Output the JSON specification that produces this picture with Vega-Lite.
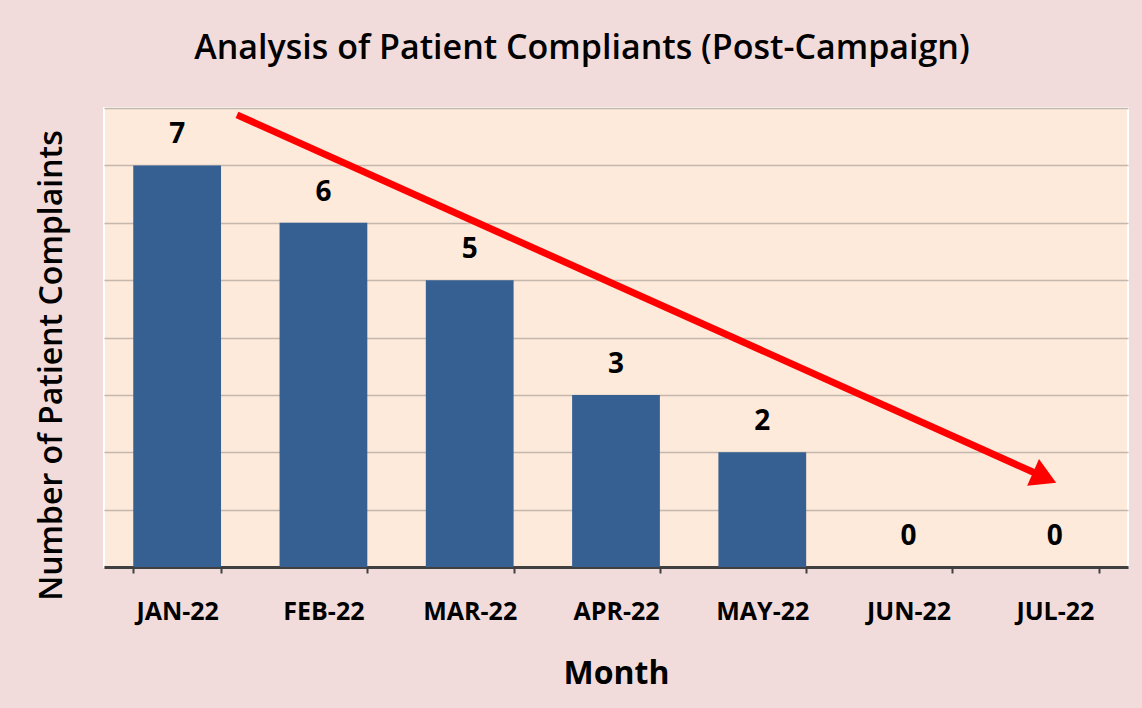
{
  "$schema": "https://vega.github.io/schema/vega-lite/v6.json",
  "width": 1024,
  "height": 459,
  "autosize": {"type": "none"},
  "padding": {"left": 104, "top": 108, "right": 14, "bottom": 141},
  "background": "#f2dcdb",
  "config": {
    "view": {"fill": "#fdeada", "stroke": "#ffffff", "strokeWidth": 2},
    "font": "Open Sans"
  },
  "title": {
    "text": "Analysis of Patient Compliants (Post-Campaign)",
    "fontSize": 34,
    "fontWeight": 600,
    "font": "Open Sans",
    "color": "#000000",
    "anchor": "middle",
    "dx": -34,
    "baseline": "alphabetic",
    "offset": 8
  },
  "datasets": {
    "bars": [
      {"month": "JAN-22", "complaints": 7},
      {"month": "FEB-22", "complaints": 6},
      {"month": "MAR-22", "complaints": 5},
      {"month": "APR-22", "complaints": 3},
      {"month": "MAY-22", "complaints": 2},
      {"month": "JUN-22", "complaints": 0},
      {"month": "JUL-22", "complaints": 0}
    ],
    "arrow": [
      {"px": 0.909, "py": 7.88},
      {"px": 6.38, "py": 1.62}
    ],
    "head": [
      {"px": 6.43, "py": 1.56}
    ]
  },
  "layer": [
    {
      "data": {"name": "bars"},
      "encoding": {
        "x": {
          "field": "month",
          "type": "nominal",
          "sort": null,
          "scale": {"paddingInner": 0.4, "paddingOuter": 0.2},
          "axis": {
            "title": "Month",
            "titleFontSize": 32,
            "titleFontWeight": "bold",
            "titleColor": "#000000",
            "titlePadding": 34,
            "labelAngle": 0,
            "labelFontSize": 25,
            "labelFontWeight": "bold",
            "labelColor": "#000000",
            "labelPadding": 26,
            "tickBand": "extent",
            "tickSize": 6,
            "tickWidth": 2,
            "tickColor": "#404040",
            "domainColor": "#404040",
            "domainWidth": 3,
            "grid": false
          }
        },
        "y": {
          "field": "complaints",
          "type": "quantitative",
          "scale": {"domain": [0, 8], "nice": false},
          "axis": {
            "title": "Number of Patient Complaints",
            "titleFontSize": 32,
            "titleFontWeight": 600,
            "titleColor": "#000000",
            "titlePadding": 36,
            "titleY": 257,
            "labels": false,
            "ticks": false,
            "domain": false,
            "tickCount": 8,
            "grid": true,
            "gridColor": "#c4b8ae",
            "gridWidth": 1.5
          }
        }
      },
      "layer": [
        {"mark": {"type": "bar", "color": "#376092"}},
        {
          "mark": {"type": "text", "dy": -30, "fontSize": 28, "fontWeight": "bold", "color": "#000000", "baseline": "middle"},
          "encoding": {"text": {"field": "complaints", "type": "quantitative"}}
        }
      ]
    },
    {
      "data": {"name": "arrow"},
      "mark": {"type": "line", "color": "#ff0000", "strokeWidth": 7, "strokeCap": "butt"},
      "encoding": {
        "x": {"field": "px", "type": "quantitative", "scale": {"domain": [0, 7], "nice": false, "zero": false}, "axis": null},
        "y": {"field": "py", "type": "quantitative"}
      }
    },
    {
      "data": {"name": "head"},
      "mark": {"type": "point", "shape": "triangle-right", "filled": true, "color": "#ff0000", "opacity": 1, "size": 850, "angle": 24},
      "encoding": {
        "x": {"field": "px", "type": "quantitative", "scale": {"domain": [0, 7], "nice": false, "zero": false}, "axis": null},
        "y": {"field": "py", "type": "quantitative"}
      }
    }
  ],
  "resolve": {"scale": {"x": "independent"}, "axis": {"x": "independent"}}
}
